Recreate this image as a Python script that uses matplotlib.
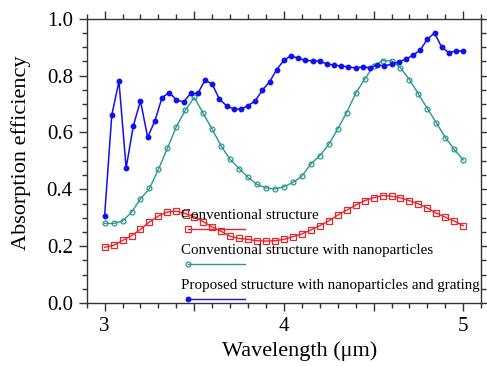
import numpy as np
import matplotlib
matplotlib.use("Agg")
import matplotlib.pyplot as plt
from matplotlib.ticker import MultipleLocator, FuncFormatter

plt.rcParams['font.family'] = ['Liberation Serif', 'DejaVu Serif']

# Data
x_conv = np.round(np.arange(3.0, 5.0001, 0.05), 2)
y_conv = [0.196, 0.203, 0.220, 0.237, 0.259, 0.285, 0.306, 0.320, 0.323, 0.315,
          0.303, 0.286, 0.268, 0.252, 0.235, 0.227, 0.224, 0.219, 0.218, 0.219,
          0.224, 0.233, 0.243, 0.257, 0.272, 0.289, 0.309, 0.327, 0.344, 0.360,
          0.370, 0.378, 0.376, 0.370, 0.360, 0.349, 0.334, 0.316, 0.302, 0.288,
          0.272]

x_np = np.round(np.arange(3.0, 5.0001, 0.05), 2)
y_np = [0.280, 0.280, 0.288, 0.319, 0.366, 0.403, 0.470, 0.544, 0.620, 0.678,
        0.723, 0.667, 0.611, 0.552, 0.505, 0.473, 0.442, 0.417, 0.405, 0.401,
        0.409, 0.424, 0.446, 0.489, 0.518, 0.558, 0.612, 0.670, 0.737, 0.787,
        0.833, 0.852, 0.852, 0.827, 0.786, 0.735, 0.684, 0.634, 0.582, 0.540,
        0.503]

x_prop = np.round(np.arange(3.0, 5.0001, 0.04), 2)
y_prop = [0.307, 0.661, 0.780, 0.475, 0.623, 0.711, 0.583, 0.640, 0.722, 0.740,
          0.715, 0.707, 0.737, 0.737, 0.784, 0.770, 0.717, 0.694, 0.682, 0.682,
          0.694, 0.711, 0.749, 0.778, 0.821, 0.854, 0.870, 0.860, 0.854, 0.851,
          0.851, 0.840, 0.837, 0.833, 0.831, 0.826, 0.831, 0.827, 0.837, 0.834,
          0.840, 0.848, 0.857, 0.872, 0.889, 0.928, 0.950, 0.899, 0.881, 0.886,
          0.887]

labels = ["Conventional structure",
          "Conventional structure with nanoparticles",
          "Proposed structure with nanoparticles and grating"]

red = '#e8262c'
teal = '#2a9890'
blue = '#1010f0'

fig = plt.figure(figsize=(4.87, 3.66), dpi=100)
ax = fig.add_axes([0.178, 0.172, 0.810, 0.777])

ax.plot(x_conv, y_conv, color=red, lw=1.0, marker='s', ms=4, mfc='none',
        mec=red, mew=0.9)
ax.plot(x_np, y_np, color=teal, lw=1.0, marker='o', ms=3.5, mfc='none',
        mec=teal, mew=0.9)
ax.plot(x_prop, y_prop, color=blue, lw=1.1, marker='o', ms=3.2, mfc=blue,
        mec=blue)

ax.set_xlim(2.9, 5.1)
ax.set_ylim(0.0, 1.0)
ax.xaxis.set_major_locator(MultipleLocator(0.5))
ax.xaxis.set_minor_locator(MultipleLocator(0.1))
ax.xaxis.set_major_formatter(FuncFormatter(
    lambda v, p: f"{int(round(v))}" if abs(v - round(v)) < 1e-6 else ""))
ax.yaxis.set_major_locator(MultipleLocator(0.2))
ax.yaxis.set_minor_locator(MultipleLocator(0.05))
ax.yaxis.set_major_formatter(FuncFormatter(lambda v, p: f"{v:.1f}"))

ax.tick_params(which='both', direction='out', top=True, right=True,
               labeltop=False, labelright=False, color='#333333', width=1.0)
ax.tick_params(which='major', length=6, labelsize=15, pad=4)
ax.tick_params(which='minor', length=3.5)
for s in ax.spines.values():
    s.set_color('#333333')
    s.set_linewidth(1.0)

ax.set_xlabel("Wavelength (\u03bcm)", fontsize=16)
ax.set_ylabel("Absorption efficiency", fontsize=16)
ax.xaxis.set_label_coords(0.54, -0.135)
ax.yaxis.set_label_coords(-0.14, 0.53)

# Custom legend (text above sample line)
styles = [dict(color=red, marker='s', ms=4, mfc='none', mew=0.9),
          dict(color=teal, marker='o', ms=3.5, mfc='none', mew=0.9),
          dict(color=blue, marker='o', ms=3.2, mfc=blue)]
ty = [0.309, 0.186, 0.063]
ly = [0.261, 0.138, 0.015]
for lab, st, t, l in zip(labels, styles, ty, ly):
    ax.text(0.239, t, lab, transform=ax.transAxes, fontsize=10.8,
            va='center', ha='left', color='black')
    ax.plot([0.256, 0.402], [l, l], transform=ax.transAxes, lw=1.0,
            color=st['color'])
    ax.plot([0.256], [l], transform=ax.transAxes, linestyle='none', **st)

fig.savefig("out.png", dpi=100)
